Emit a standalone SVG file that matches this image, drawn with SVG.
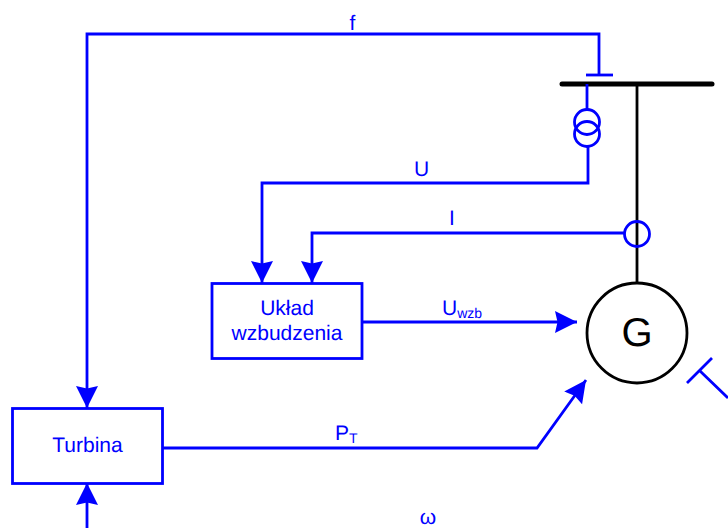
<svg xmlns="http://www.w3.org/2000/svg" width="728" height="528" viewBox="0 0 728 528">
<style>
.w{fill:none;stroke:#0000ff;stroke-width:2.800;stroke-linejoin:miter}
.k{fill:none;stroke:#000;stroke-width:2.800}
.b{fill:#fff;stroke:#0000ff;stroke-width:2.800}
text{font-family:"Liberation Sans",Arial,sans-serif;fill:#0000ff;font-size:21px;text-rendering:geometricPrecision}
.m{text-anchor:middle}
</style>
<defs>
<marker id="a" markerUnits="userSpaceOnUse" markerWidth="24" markerHeight="24" refX="22" refY="11" orient="auto">
<path d="M0 0L22 11L0 22L2.500 11Z" fill="#0000ff"/>
</marker>
</defs>
<g id="connectors">
<path class="w" d="M599 75V34H87V408" marker-end="url(#a)"/>
<path class="w" d="M586 75H613"/>
<path class="k" d="M637 84V283"/>
<path d="M562 84H712" fill="none" stroke="#000" stroke-width="5" stroke-linecap="round"/>
<path class="w" d="M587 84V109"/>
<path class="w" d="M588 147V183H262V283" marker-end="url(#a)"/>
<path class="w" d="M624 233H312V283" marker-end="url(#a)"/>
<path class="w" d="M362 322H577" marker-end="url(#a)"/>
<path class="w" d="M162 448H537L586 380" marker-end="url(#a)"/>
<path class="w" d="M87 528V483" marker-end="url(#a)"/>
<path class="w" d="M687 383L712 358M700 371L728 398"/>
</g>
<g id="transformer">
<circle class="w" cx="587" cy="122" r="12.500"/>
<circle class="w" cx="587" cy="134" r="12.500"/>
</g>
<g id="current-sensor"><circle class="w" cx="637" cy="234" r="12.500"/></g>
<g id="generator">
<circle cx="637" cy="333" r="50" fill="none" stroke="#000" stroke-width="2.800"/>
<text x="637" y="346" class="m" style="font-size:40px;fill:#000">G</text>
</g>
<g id="uklad">
<rect class="b" x="212" y="283.500" width="150" height="75"/>
<text x="287" y="315" class="m">Układ</text>
<text x="287" y="340" class="m">wzbudzenia</text>
</g>
<g id="turbina">
<rect class="b" x="12.500" y="408.500" width="150" height="75"/>
<text x="87.500" y="452" class="m">Turbina</text>
</g>
<g id="labels">
<text x="352.500" y="30" class="m">f</text>
<text x="421.500" y="176" class="m">U</text>
<text x="452" y="225" class="m">I</text>
<text x="442" y="315">U<tspan font-size="14" dy="3">wzb</tspan></text>
<text x="335" y="440">P<tspan font-size="14" dy="3">T</tspan></text>
<text x="428" y="524" class="m">ω</text>
</g>
</svg>
